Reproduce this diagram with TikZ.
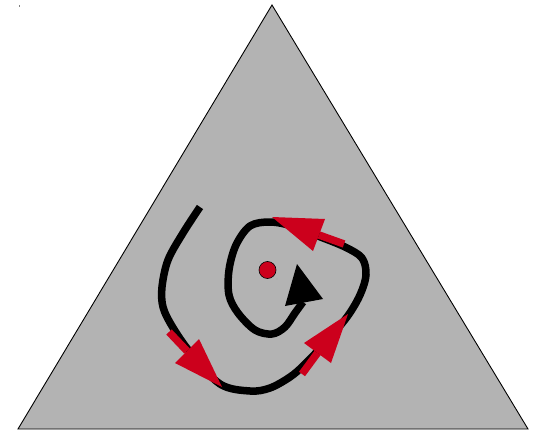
\documentclass[tikz,border=0pt]{standalone}
\usetikzlibrary{calc}
\definecolor{trigray}{RGB}{179,179,179}
\definecolor{arrred}{RGB}{204,0,28}
\tikzset{
  spiral/.style={line width=7.5pt, black, line cap=butt, line join=round},
  redshaft/.style={line width=7.5pt, arrred, line cap=butt},
  redhead/.style={fill=arrred, draw=none},
}
\begin{document}
\begin{tikzpicture}[x=1pt,y=-1pt]
\useasboundingbox (0,0) rectangle (536,431);
% triangle
\coordinate (T) at (272,5);
\coordinate (L) at (18,429);
\coordinate (R) at (528,429);
\draw[fill=trigray, line width=0.9pt, line join=miter] (T) -- (L) -- (R) -- cycle;
% tiny mark at top left
\fill[gray] (19,5) rectangle (20,7);
% spiral path
\draw[spiral] plot[smooth, tension=0.55] coordinates {
 (200,207) (183,233) (168,260) (162,287) (163,307) (172,326) (190,352) (220,384)
 (250,391) (270,388) (290,377) (304,365) (325,343) (347,317) (360,295) (366,275)
 (362,258) (345,247) (318,236) (292,226) (270,222) (250,226) (236,245) (229,270)
 (229,295) (238,313) (255,330) (272,334) (285,327) (295,313) (303,302)};
% black arrowhead
\coordinate (bt) at (297,264);
\coordinate (b1) at (323,299);
\coordinate (b2) at (285,306);
\fill[black] (bt) -- (b1) -- (b2) -- cycle;
% red dot
\node[circle, fill=arrred, draw=black, line width=0.6pt, minimum size=17pt, inner sep=0pt] (dot) at (267.5,270) {};
\fill[gray!70] (260,262) circle (0.7);
\fill[gray!70] (277,279) circle (0.7);
% red arrow 1 (top)
\coordinate (a1t) at (344,244);
\coordinate (a1p) at (272,217);
\coordinate (a1c) at (325,219);
\coordinate (a1d) at (313,251);
\draw[redshaft] (a1t) -- ($(a1c)!0.5!(a1d)$);
\fill[redhead] (a1p) -- (a1c) -- (a1d) -- cycle;
% red arrow 2 (bottom left)
\coordinate (a2t) at (169,332);
\coordinate (a2p) at (222,387);
\coordinate (a2c) at (175,363);
\coordinate (a2d) at (199,339);
\draw[redshaft] (a2t) -- ($(a2c)!0.5!(a2d)$);
\fill[redhead] (a2p) -- (a2c) -- (a2d) -- cycle;
% red arrow 3 (bottom right)
\coordinate (a3t) at (302,374);
\coordinate (a3p) at (348,314);
\coordinate (a3c) at (304,343);
\coordinate (a3d) at (331,363);
\draw[redshaft] (a3t) -- ($(a3c)!0.5!(a3d)$);
\fill[redhead] (a3p) -- (a3c) -- (a3d) -- cycle;
\end{tikzpicture}
\end{document}
